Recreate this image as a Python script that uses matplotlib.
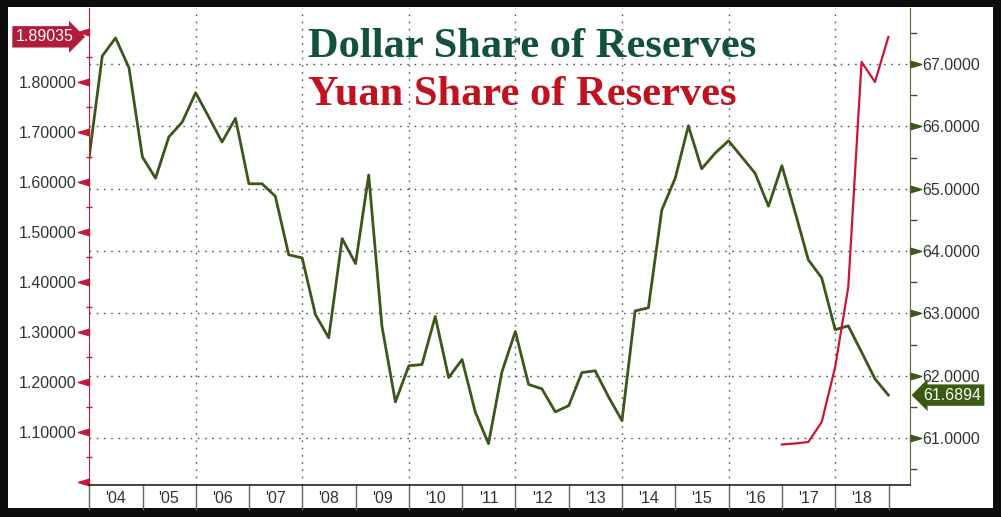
import numpy as np
import pandas as pd
import matplotlib
matplotlib.use("Agg")
import matplotlib.pyplot as plt
import matplotlib.dates as mdates
from matplotlib.ticker import MultipleLocator, FuncFormatter
from matplotlib.transforms import blended_transform_factory
from matplotlib.patches import Rectangle
from matplotlib.path import Path

# quarterly data, 2003Q4 .. 2018Q4 (quarter-end dates)
quarters = pd.date_range("2003-12-31", periods=61, freq="QE")

# USD share of allocated reserves (%), right axis
usd_share = [65.49, 67.13, 67.42, 66.94, 65.51, 65.17, 65.83, 66.07, 66.54, 66.15,
             65.75, 66.13, 65.08, 65.08, 64.88, 63.94, 63.89, 62.98, 62.61, 64.20,
             63.80, 65.22, 62.79, 61.58, 62.16, 62.18, 62.95, 61.97, 62.26, 61.42,
             60.91, 62.06, 62.71, 61.86, 61.79, 61.42, 61.52, 62.05, 62.08, 61.66,
             61.28, 63.04, 63.09, 64.66, 65.17, 66.01, 65.32, 65.57, 65.77, 65.51,
             65.25, 64.72, 65.37, 64.63, 63.86, 63.57, 62.74, 62.80, 62.38, 61.95,
             61.6894]

# RMB share (%), left axis, reported from 2016Q4
cny_dates = quarters[52:]
cny_share = [1.075, 1.077, 1.08, 1.12, 1.23, 1.39, 1.84, 1.80, 1.89035]

green = "#3c561c"
red = "#c8163a"

fig = plt.figure(figsize=(10.01, 5.17), dpi=100)
fig.patch.set_facecolor("#0d0d0d")
fig.patches.append(Rectangle((8 / 1001, 9 / 517), 985 / 1001, 501 / 517,
                             transform=fig.transFigure, fc="white", ec="none",
                             zorder=-10))

ax = fig.add_axes([89 / 1001, 32 / 517, 821 / 1001, 477 / 517])
ax2 = ax.twinx()
ax.set_zorder(2)
ax2.set_zorder(1)
ax.patch.set_visible(False)
ax2.patch.set_visible(False)

ax2.plot(quarters, usd_share, color=green, lw=2.0)
ax.plot(cny_dates, cny_share, color=red, lw=1.6)

ax.set_xlim(pd.Timestamp("2003-12-31"), pd.Timestamp("2019-05-28"))
ax.set_ylim(0.994, 1.948)
ax2.set_ylim(60.247, 67.9)

# x axis: year separators and centred labels
ax.xaxis.set_major_locator(mdates.YearLocator(1))
ax.xaxis.set_major_formatter(plt.NullFormatter())
ax.xaxis.set_minor_locator(mdates.MonthLocator(bymonth=7, bymonthday=1))
ax.xaxis.set_minor_formatter(mdates.DateFormatter("'%y"))
ax.tick_params(axis="x", which="major", length=18, width=1, color="#666666")
ax.tick_params(axis="x", which="minor", length=0, pad=4, labelsize=11.5,
               labelcolor="#333333")
for lab in ax.xaxis.get_minorticklabels():
    lab.set_fontfamily("Liberation Sans")
for yr in range(2006, 2019, 2):
    ax.axvline(pd.Timestamp(f"{yr}-01-01"), color="#555555", lw=1,
               ls=(0, (1.2, 4)), zorder=0)

# left axis (yuan)
ax.yaxis.set_major_locator(MultipleLocator(0.1))
ax.yaxis.set_minor_locator(MultipleLocator(0.05))
ax.yaxis.set_major_formatter(FuncFormatter(
    lambda v, p: "" if (v < 1.05 or v > 1.85) else f"{v:.5f}"))
ax.tick_params(axis="y", which="major", length=8, width=1, color=red, pad=1,
               labelsize=11.5, labelcolor="#333333")
ax.tick_params(axis="y", which="minor", length=4, width=1, color=red, direction="inout")
for lab in ax.get_yticklabels():
    lab.set_fontfamily("Liberation Sans")

# right axis (dollar)
ax2.yaxis.set_major_locator(MultipleLocator(1))
ax2.yaxis.set_minor_locator(MultipleLocator(0.5))
ax2.yaxis.set_major_formatter(FuncFormatter(lambda v, p: f"{v:.4f}"))
ax2.tick_params(axis="y", which="major", length=8, width=1, color=green, pad=1,
                labelsize=11.5, labelcolor="#333333")
ax2.tick_params(axis="y", which="minor", length=5, width=1, color=green)
for lab in ax2.get_yticklabels():
    lab.set_fontfamily("Liberation Sans")
ax2.yaxis.grid(True, which="major", color="#555555", lw=1, ls=(0, (1.2, 4)))
ax2.set_axisbelow(True)

# triangular tick marks, base on the spine
tri_left = Path([(0, 0.3), (-1, 0), (0, -0.3), (0, 0.3)])
tri_right = Path([(0, 0.3), (1, 0), (0, -0.3), (0, 0.3)])
for t in ax.yaxis.get_major_ticks():
    t.tick1line.set_marker(tri_left)
    t.tick1line.set_markersize(16)
    t.tick1line.set_markerfacecolor(red)
    t.tick1line.set_markeredgecolor(red)
for t in ax2.yaxis.get_major_ticks():
    t.tick2line.set_marker(tri_right)
    t.tick2line.set_markersize(16)
    t.tick2line.set_markerfacecolor(green)
    t.tick2line.set_markeredgecolor(green)

for a in (ax, ax2):
    a.spines["top"].set_visible(False)
ax.spines["left"].set_color("#9c2a3f")
ax.spines["right"].set_visible(False)
ax2.spines["left"].set_visible(False)
ax2.spines["right"].set_color("#5a6b2a")
ax2.spines["bottom"].set_visible(False)
ax.spines["bottom"].set_color("#222222")
ax.spines["bottom"].set_linewidth(1.2)

# last-value badges
tl = blended_transform_factory(ax.transAxes, ax.transData)
ax.text(-0.019, cny_share[-1], f"{cny_share[-1]:.5f}", transform=tl, ha="right",
        va="center", color="white", fontsize=11.5, family="Liberation Sans",
        bbox=dict(boxstyle="rarrow,pad=0.2", fc="#b01c3c", ec="none"),
        clip_on=False, zorder=10)
tr = blended_transform_factory(ax2.transAxes, ax2.transData)
ax2.text(1.016, usd_share[-1], f"{usd_share[-1]:.4f}", transform=tr, ha="left",
         va="center", color="white", fontsize=11.5, family="Liberation Sans",
         bbox=dict(boxstyle="larrow,pad=0.2", fc="#3a5a12", ec="none"),
         clip_on=False, zorder=10)

# titles
ax.text(0.267, 0.897, "Dollar Share of Reserves", transform=ax.transAxes,
        color="#13503f", fontsize=30.6, fontweight="bold", family="Liberation Serif",
        va="baseline", ha="left")
ax.text(0.267, 0.797, "Yuan Share of Reserves", transform=ax.transAxes,
        color="#c0121f", fontsize=30.6, fontweight="bold", family="Liberation Serif",
        va="baseline", ha="left")

fig.savefig("out.png", dpi=100, facecolor=fig.get_facecolor())
